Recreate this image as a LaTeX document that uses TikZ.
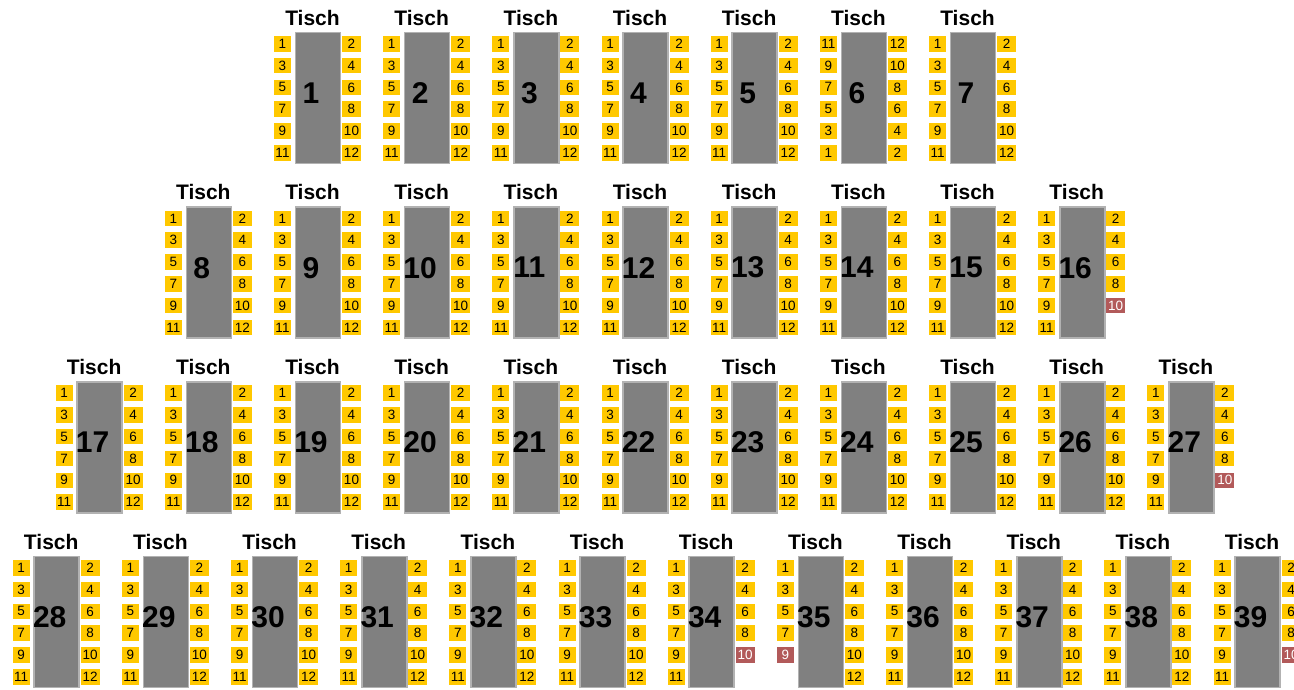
\documentclass[tikz,border=0pt]{standalone}
\usepackage{fontspec}
\setmainfont{Liberation Sans}
\usetikzlibrary{positioning}
\definecolor{sitzgelb}{RGB}{255,200,0}
\definecolor{belegtrot}{RGB}{178,90,90}
\definecolor{plattegrau}{RGB}{128,128,128}
\tikzset{
  platte/.style={fill=plattegrau, draw=gray!60, line width=1.6pt, minimum width=45pt, minimum height=131pt, inner sep=0pt},
  sitz/.style={fill=sitzgelb, minimum height=15.5pt, inner sep=0pt, font=\fontsize{13.5}{13.5}\selectfont},
  frei/.style={sitz, text=black},
  belegt/.style={sitz, fill=belegtrot, text=white},
  links/.style={minimum width=17pt},
  rechts/.style={minimum width=19pt},
  tischlab/.style={font=\bfseries\fontsize{21}{21}\selectfont, anchor=base},
  tischnr/.style={font=\bfseries\fontsize{30}{30}\selectfont},
}
% seat lists: n = normal, u = reversed, r = last seat taken
\newcommand{\Ln}{1/frei,3/frei,5/frei,7/frei,9/frei,11/frei}
\newcommand{\Rn}{2/frei,4/frei,6/frei,8/frei,10/frei,12/frei}
\newcommand{\Lu}{11/frei,9/frei,7/frei,5/frei,3/frei,1/frei}
\newcommand{\Ru}{12/frei,10/frei,8/frei,6/frei,4/frei,2/frei}
\newcommand{\Lr}{1/frei,3/frei,5/frei,7/frei,9/belegt}
\newcommand{\Rr}{2/frei,4/frei,6/frei,8/frei,10/belegt}
\newcommand{\tisch}[5]{%
  \node[platte] (t#1) at (#2,#3+98) {};
  \node[tischlab] (t#1-lab) at (#2-5.5,#3+25) {Tisch};
  \node[tischnr] (t#1-nr) at (#2-7,#3+93) {#1};
  \expandafter\let\expandafter\linkeliste\csname L#4\endcsname
  \expandafter\let\expandafter\rechteliste\csname R#5\endcsname
  \foreach \n/\s [count=\i] in \linkeliste
    \node[\s, links] (t#1-l\i) at (#2-35.5,#3+43.75+21.8*\i-21.8) {\n};
  \foreach \n/\s [count=\i] in \rechteliste
    \node[\s, rechts] (t#1-r\i) at (#2+33.5,#3+43.75+21.8*\i-21.8) {\n};
}

\begin{document}
\begin{tikzpicture}[x=1pt, y=-1pt]
  \clip (0,0) rectangle (1294,689);
  \foreach \nr/\ls/\rs [count=\k from 0] in {1/n/n,2/n/n,3/n/n,4/n/n,5/n/n,6/u/u,7/n/n}
    \tisch{\nr}{318+109.17*\k}{0}{\ls}{\rs};
  \foreach \nr/\ls/\rs [count=\k from 0] in {8/n/n,9/n/n,10/n/n,11/n/n,12/n/n,13/n/n,14/n/n,15/n/n,16/n/r}
    \tisch{\nr}{208.83+109.17*\k}{174.67}{\ls}{\rs};
  \foreach \nr/\ls/\rs [count=\k from 0] in {17/n/n,18/n/n,19/n/n,20/n/n,21/n/n,22/n/n,23/n/n,24/n/n,25/n/n,26/n/n,27/n/r}
    \tisch{\nr}{99.66+109.17*\k}{349.33}{\ls}{\rs};
  \foreach \nr/\ls/\rs [count=\k from 0] in {28/n/n,29/n/n,30/n/n,31/n/n,32/n/n,33/n/n,34/n/r,35/r/n,36/n/n,37/n/n,38/n/n,39/n/r}
    \tisch{\nr}{56.7+109.17*\k}{524}{\ls}{\rs};
\end{tikzpicture}
\end{document}
